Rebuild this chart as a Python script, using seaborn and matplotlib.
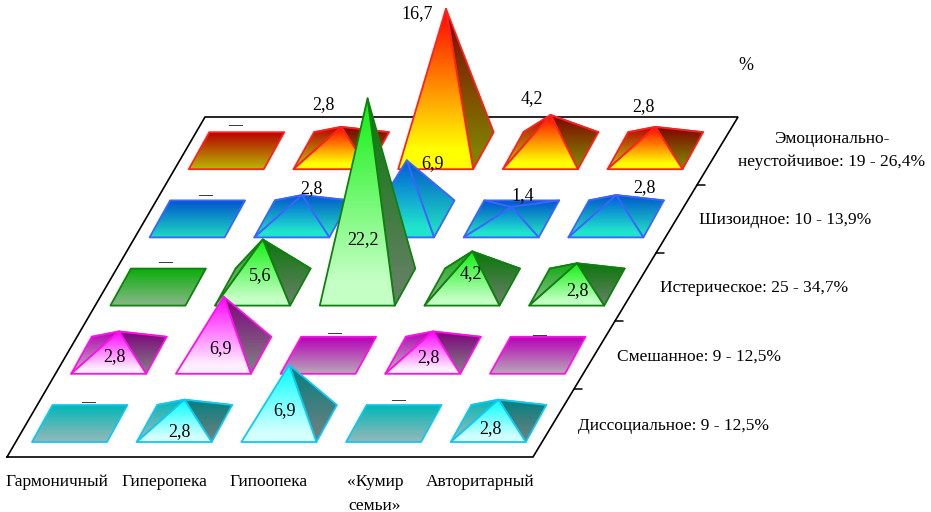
import numpy as np
import matplotlib
matplotlib.use("Agg")
import matplotlib.pyplot as plt
from matplotlib.patches import Polygon
import seaborn as sns

# ---- data ----
styles = ["Гармоничный", "Гиперопека", "Гипоопека", "«Кумир\nсемьи»", "Авторитарный"]
types = ["Диссоциальное: 9 - 12,5%", "Смешанное: 9 - 12,5%", "Истерическое: 25 - 34,7%",
         "Шизоидное: 10 - 13,9%", "Эмоционально-\nнеустойчивое: 19 - 26,4%"]
dissocial = [0, 2.8, 6.9, 0, 2.8]
mixed = [2.8, 6.9, 0, 2.8, 0]
hysteric = [0, 5.6, 22.2, 4.2, 2.8]
schizoid = [0, 2.8, 6.9, 1.4, 2.8]
emotional = [0, 2.8, 16.7, 4.2, 2.8]
rows = [dissocial, mixed, hysteric, schizoid, emotional]

# ---- style per row: top colour, bottom colour, edge, flat/left shade, right shade ----
top_colors = ["#00ffff", "#ff00ff", "#10f010", "#0058d8", "#ff0000"]
bottom_colors = ["#d4ffff", "#ffeeff", "#c4ffc4", "#20e4cc", "#ffff00"]
edge_colors = ["#10c8f0", "#ff10e8", "#108010", "#3c64ff", "#ff2020"]
flat_shade = [0.72, 0.72, 0.72, 0.95, 0.72]
right_shade = [0.5, 0.5, 0.5, 0.95, 0.5]

# label offsets from the pyramid apex (pixels)
label_offsets = {
    (4, 1): (-18, -23), (4, 2): (-29, 4), (4, 3): (-19, -17), (4, 4): (-12, -21),
    (3, 1): (9, -8), (3, 2): (26, 2), (3, 3): (11, -12), (3, 4): (28, -9),
    (2, 1): (-3, 35), (2, 2): (-5, 140), (2, 3): (-1, 21), (2, 4): (0, 26),
    (1, 0): (-5, 24), (1, 1): (-3, 51), (1, 3): (-5, 25),
    (0, 1): (-5, 31), (0, 2): (-5, 45), (0, 4): (-8, 28),
    (0, 0): (8, -21), (0, 3): (4, -23), (1, 2): (6, -22), (1, 4): (1, -20),
    (2, 0): (7, -24), (3, 0): (8, -23), (4, 0): (-1, -25),
}

sns.set_theme(style="white")
plt.rcParams["font.family"] = ["Liberation Serif", "DejaVu Serif"]
FS_NUM = 13
FS_TXT = 12.5

fig = plt.figure(figsize=(9.31, 5.12), dpi=100)
ax = fig.add_axes([0, 0, 1, 1])
W, H = 931, 512

# projection of the floor
X0, Y0 = 32, 442
COL_DX, ROW_DX, ROW_DY = 104.7, 39.2, 68.2
CELL_W, CELL_SKEW, CELL_D = 75, 20.5, 37
V_SCALE = 8.5


def shade(hexcolor, k):
    rgb = np.array(matplotlib.colors.to_rgb(hexcolor))
    return tuple(rgb * k)


# floor
floor_x = [7, 533, 738, 205, 7]
floor_y = [457, 457, 117, 117, 457]
ax.plot(floor_x, floor_y, color="black", lw=1.2, solid_joinstyle="miter", zorder=1)
for i in range(1, 5):
    f = i / 5
    tx = 533 + (738 - 533) * f
    ty = 457 + (117 - 457) * f
    ax.plot([tx, tx + 8], [ty, ty], color="black", lw=1.1, zorder=1)

z = 2
t = np.linspace(0, 1, 256)[:, None]
grad_flat = t
grad_pyr = np.clip(t / 0.88, 0, 1)


def face(pts, top, bottom, k, bbox, edge, grad):
    global z
    cmap = sns.blend_palette([shade(top, k), shade(bottom, k)], as_cmap=True)
    x0, x1, y0, y1 = bbox
    im = ax.imshow(grad, cmap=cmap, extent=(x0, x1, y1, y0), origin="upper",
                   aspect="auto", zorder=z, interpolation="bilinear", vmin=0, vmax=1)
    poly = Polygon(pts, closed=True, transform=ax.transData, fc="none", ec=edge,
                   lw=1.3, zorder=z + 0.5, joinstyle="round")
    ax.add_patch(poly)
    im.set_clip_path(poly)
    z += 1


texts = []
for r in range(len(rows) - 1, -1, -1):
    vals = rows[r]
    top, bottom, edge = top_colors[r], bottom_colors[r], edge_colors[r]
    for c, v in enumerate(vals):
        blx = X0 + COL_DX * c + ROW_DX * r
        bly = Y0 - ROW_DY * r
        BL = (blx, bly)
        BR = (blx + CELL_W, bly)
        TR = (blx + CELL_W + CELL_SKEW, bly - CELL_D)
        TL = (blx + CELL_SKEW, bly - CELL_D)
        cx = blx + (CELL_W + CELL_SKEW) / 2
        cy = bly - CELL_D / 2
        apex = (cx, cy - V_SCALE * v)
        ymin = min(apex[1], TL[1])
        bbox = (blx - 1, TR[0] + 1, ymin, bly)
        if v == 0:
            face([BL, BR, TR, TL], top, bottom, flat_shade[r], bbox, edge, grad_flat)
        else:
            # back and left faces only show when the back-left corner sticks out past the front edge
            frac = (BL[1] - TL[1]) / (BL[1] - apex[1])
            if (BL[0] + (apex[0] - BL[0]) * frac) - TL[0] > 3:
                face([TL, TR, apex], top, bottom, flat_shade[r], bbox, edge, grad_pyr)
                face([BL, TL, apex], top, bottom, flat_shade[r], bbox, edge, grad_pyr)
            face([BR, TR, apex], top, bottom, right_shade[r], bbox, edge, grad_pyr)
            face([BL, BR, apex], top, bottom, 1.0, bbox, edge, grad_pyr)
        dx, dy = label_offsets[(r, c)]
        s = "—" if v == 0 else f"{v:.1f}".replace(".", ",")
        texts.append((apex[0] + dx, apex[1] + dy, s, z))

for (tx, ty, s, zz) in texts:
    if s == "—":
        ax.text(tx, ty, s, ha="center", va="center", fontsize=10, fontweight="bold",
                color="black", zorder=500)
    else:
        ax.text(tx, ty + 1, s, ha="center", va="center", fontsize=FS_NUM, color="black", zorder=zz)

# category labels
cat_x = [57, 164, 269, 375, 480]
for x, s in zip(cat_x, styles):
    ax.text(x, 474.5, s, ha="center", va="top", fontsize=FS_TXT, color="black",
            linespacing=1.6, zorder=600)

# series labels
series_x = [674, 699, 754, 785, 832]
series_y = [425.5, 356.5, 288.5, 220.5, 150.5]
for x, y, s in zip(series_x, series_y, types):
    ax.text(x, y, s, ha="center", va="center", fontsize=FS_TXT, color="black",
            linespacing=1.6, zorder=600)

ax.text(746, 65, "%", ha="center", va="center", fontsize=13, color="black", zorder=600)

ax.set_xlim(0, W)
ax.set_ylim(H, 0)
ax.axis("off")
fig.savefig("out.png", dpi=100, facecolor="white")
